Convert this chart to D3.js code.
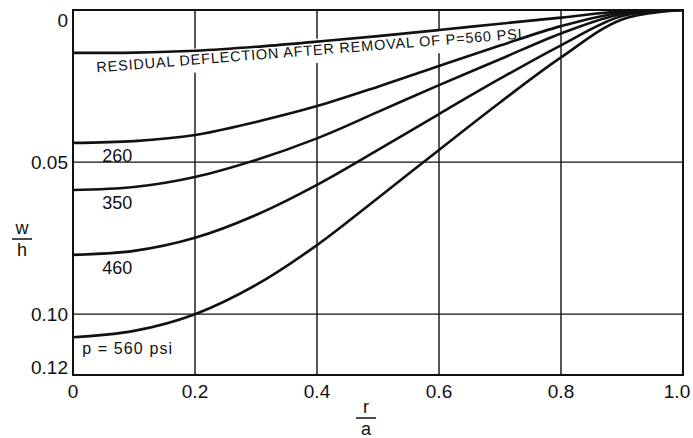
<!DOCTYPE html>
<html lang="en">
<head>
<meta charset="UTF-8" />
<title>Deflection w/h vs r/a</title>
<script src="https://d3js.org/d3.v7.min.js"></script>
<style>
    body {
        margin: 0;
        background: #fff;
    }

    svg {
        display: block;
    }

    text {
        font-family: "Liberation Sans", sans-serif;
        fill: #111;
    }
</style>
</head>
<body>
<svg id="chart"></svg>
<script>
    const rOverA = [0, 0.1, 0.2, 0.3, 0.4, 0.5, 0.6, 0.7, 0.8, 0.9, 1.0];

    // w/h values (deflection, plotted downward)
    const residual = [0.0141, 0.0140, 0.0134, 0.0121, 0.0104, 0.0086, 0.0066, 0.0045, 0.0025, 0.0004, 0];
    const p260 = [0.0437, 0.0431, 0.0411, 0.0368, 0.0316, 0.0252, 0.0184, 0.0117, 0.0053, 0.0008, 0];
    const p350 = [0.0592, 0.0582, 0.0549, 0.0493, 0.0422, 0.0335, 0.0247, 0.0162, 0.0077, 0.0013, 0];
    const p460 = [0.0805, 0.0792, 0.0749, 0.0674, 0.0575, 0.0460, 0.0342, 0.0226, 0.0116, 0.0020, 0];
    const p560 = [0.1076, 0.1055, 0.1000, 0.0904, 0.0773, 0.0618, 0.0460, 0.0304, 0.0156, 0.0031, 0];

    const seriesList = [residual, p260, p350, p460, p560];
    const curveLabels = ["260", "350", "460"];
    const residualLabel = "RESIDUAL DEFLECTION AFTER REMOVAL OF P=560 PSI";
    const pLabel = "p = 560 psi";

    const xTicks = [0, 0.2, 0.4, 0.6, 0.8, 1.0];
    const xTickLabels = ["0", "0.2", "0.4", "0.6", "0.8", "1.0"];
    const yTicks = [0, 0.05, 0.10, 0.12];
    const yTickLabels = ["0", "0.05", "0.10", "0.12"];
    const xGrid = [0.2, 0.4, 0.6, 0.8];
    const yGrid = [0.05, 0.10];

    const width = 693;
    const height = 438;
    const margin = { top: 10, right: 10, bottom: 63, left: 73 };

    const svg = d3.select("#chart")
        .attr("width", width)
        .attr("height", height);

    const x = d3.scaleLinear()
        .domain([0, 1])
        .range([margin.left, width - margin.right]);

    const y = d3.scaleLinear()
        .domain([0, 0.12])
        .range([margin.top, height - margin.bottom]);

    // grid
    svg.append("g")
        .selectAll("line")
        .data(xGrid)
        .join("line")
        .attr("x1", d => x(d)).attr("x2", d => x(d))
        .attr("y1", y(0)).attr("y2", y(0.12))
        .attr("stroke", "#111")
        .attr("stroke-width", 1.4);

    svg.append("g")
        .selectAll("line")
        .data(yGrid)
        .join("line")
        .attr("x1", x(0)).attr("x2", x(1))
        .attr("y1", d => y(d)).attr("y2", d => y(d))
        .attr("stroke", "#111")
        .attr("stroke-width", 1.4);

    // residual label under the top curve, with a white patch behind it
    const x0 = x(0.039), y0 = y(0.0205);
    const x1 = x(0.736), y1 = y(0.0094);
    const angle = Math.atan2(y1 - y0, x1 - x0) * 180 / Math.PI;
    const len = Math.hypot(x1 - x0, y1 - y0);

    const resG = svg.append("g")
        .attr("transform", `translate(${x0},${y0}) rotate(${angle})`);
    const resRect = resG.append("rect").attr("fill", "#fff");
    const resText = resG.append("text")
        .attr("font-size", 14.5)
        .attr("textLength", len)
        .attr("lengthAdjust", "spacing")
        .text(residualLabel);
    const bb = resText.node().getBBox();
    resRect
        .attr("x", bb.x - 4)
        .attr("y", bb.y - 3)
        .attr("width", bb.width + 8)
        .attr("height", bb.height + 8);

    // curves (clipped to the plot box)
    svg.append("clipPath")
        .attr("id", "plot-clip")
        .append("rect")
        .attr("x", x(0))
        .attr("y", y(0))
        .attr("width", x(1) - x(0))
        .attr("height", y(0.12) - y(0));

    const line = d3.line()
        .x((d, i) => x(rOverA[i]))
        .y(d => y(d))
        .curve(d3.curveCatmullRom.alpha(0.5));

    svg.append("g")
        .attr("clip-path", "url(#plot-clip)")
        .selectAll("path")
        .data(seriesList)
        .join("path")
        .attr("d", d => line(d))
        .attr("fill", "none")
        .attr("stroke", "#111")
        .attr("stroke-width", 2.6)
        .attr("stroke-linejoin", "round");

    // frame
    svg.append("rect")
        .attr("x", x(0))
        .attr("y", y(0))
        .attr("width", x(1) - x(0))
        .attr("height", y(0.12) - y(0))
        .attr("fill", "none")
        .attr("stroke", "#111")
        .attr("stroke-width", 2);

    // curve labels
    const labelSeries = [p260, p350, p460];
    svg.append("g")
        .selectAll("text")
        .data(curveLabels)
        .join("text")
        .attr("x", x(0.048))
        .attr("y", (d, i) => y(labelSeries[i][0]) + 19)
        .attr("font-size", 18)
        .text(d => d);

    svg.append("text")
        .attr("x", x(0.015))
        .attr("y", y(p560[0]) + 17)
        .attr("font-size", 16)
        .attr("textLength", 90)
        .attr("lengthAdjust", "spacing")
        .text(pLabel);

    // y tick labels
    svg.append("g")
        .selectAll("text")
        .data(yTicks)
        .join("text")
        .attr("x", x(0) - 5)
        .attr("y", d => Math.min(Math.max(y(d), y(0) + 10), y(0.12) - 8))
        .attr("dy", "0.36em")
        .attr("text-anchor", "end")
        .attr("font-size", 19)
        .text((d, i) => yTickLabels[i]);

    // x tick labels
    svg.append("g")
        .selectAll("text")
        .data(xTicks)
        .join("text")
        .attr("x", d => Math.min(x(d), width - 16))
        .attr("y", y(0.12) + 23)
        .attr("text-anchor", "middle")
        .attr("font-size", 19)
        .text((d, i) => xTickLabels[i]);

    // axis titles as fractions
    function fraction(cx, top, num, den) {
        const g = svg.append("g");
        g.append("text")
            .attr("x", cx).attr("y", top)
            .attr("text-anchor", "middle")
            .attr("font-size", 18)
            .text(num);
        g.append("line")
            .attr("x1", cx - 10).attr("x2", cx + 10)
            .attr("y1", top + 5).attr("y2", top + 5)
            .attr("stroke", "#111")
            .attr("stroke-width", 1.5);
        g.append("text")
            .attr("x", cx).attr("y", top + 22)
            .attr("text-anchor", "middle")
            .attr("font-size", 18)
            .text(den);
    }

    fraction(22, 234, "w", "h");
    fraction(366, 413, "r", "a");
</script>
</body>
</html>
